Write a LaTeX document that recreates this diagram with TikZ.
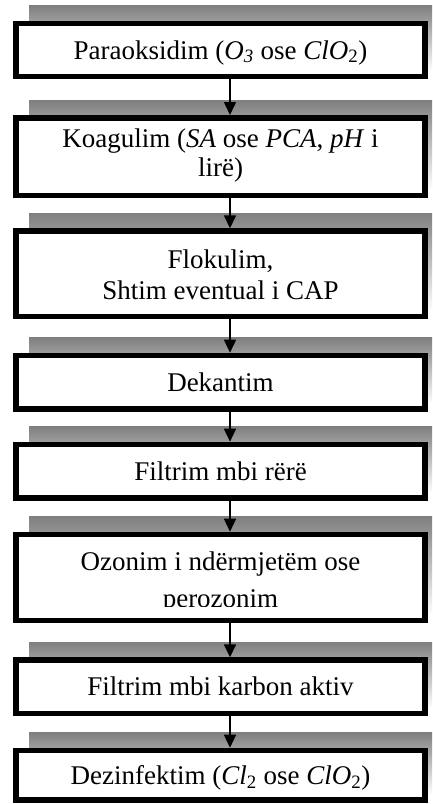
\documentclass[tikz,border=0pt]{standalone}
\usepackage{fontspec}
\setmainfont{Liberation Serif}
\usetikzlibrary{arrows.meta}
\definecolor{shade}{HTML}{808080}
\begin{document}
\begin{tikzpicture}[x=1pt,y=-1pt,
  box/.style={draw=black, line width=5.5pt, fill=white, inner sep=0pt, minimum width=409pt},
  lbl/.style={anchor=base, inner sep=0pt, font=\fontsize{27}{31}\selectfont},
  arr/.style={line width=1.5pt, -{Triangle[width=12pt,length=13pt]}}]
\useasboundingbox (0,0) rectangle (432,804);
% shadows
\foreach \t/\b in {20.7/79.3, 115/198.3, 228.3/319.3, 352.7/411.7, 441.7/500.7, 531.7/623.3, 657.3/716, 747.7/802.7}
  \fill[shade] (29,\t-15) rectangle (432,\b-8);
% boxes
\node[box, minimum height=53.1pt] (b1) at (220.5,50) {};
\node[box, minimum height=77.8pt] (b2) at (220.5,156.65) {};
\node[box, minimum height=85.5pt] (b3) at (220.5,273.8) {};
\node[box, minimum height=53.5pt] (b4) at (220.5,382.2) {};
\node[box, minimum height=53.5pt] (b5) at (220.5,471.2) {};
\node[box, minimum height=86.1pt] (b6) at (220.5,577.5) {};
\node[box, minimum height=53.2pt] (b7) at (220.5,686.65) {};
\node[box, minimum height=49.5pt] (b8) at (220.5,775.2) {};
% texts
\node[lbl] (t1) at (220.5,59) {Paraoksidim (\textit{O\textsubscript{3}} ose \textit{ClO}\textsubscript{2})};
\node[lbl] (t2a) at (220.5,147) {Koagulim (\textit{SA} ose \textit{PCA}, \textit{pH} i};
\node[lbl] (t2b) at (220.5,176) {lirë)};
\node[lbl] (t3a) at (220.5,268) {Flokulim,};
\node[lbl] (t3b) at (220.5,299) {Shtim eventual i CAP};
\node[lbl] (t4) at (220.5,391.5) {Dekantim};
\node[lbl] (t5) at (220.5,480.5) {Filtrim mbi rërë};
\node[lbl] (t6a) at (220.5,570) {Ozonim i ndërmjetëm ose};
\begin{scope}
\clip (0,575) rectangle (432,606);
\node[lbl] (t6b) at (220.5,607) {perozonim};
\end{scope}
\node[lbl] (t7) at (220.5,695.5) {Filtrim mbi karbon aktiv};
\node[lbl] (t8) at (220.5,784.5) {Dezinfektim (\textit{Cl}\textsubscript{2} ose \textit{ClO}\textsubscript{2})};
% connectors
\coordinate (ax) at (230,0);
\draw[arr] (b1.south -| ax) -- (b2.north -| ax);
\draw[arr] (b2.south -| ax) -- (b3.north -| ax);
\draw[arr] (b3.south -| ax) -- (b4.north -| ax);
\draw[arr] (b4.south -| ax) -- (b5.north -| ax);
\draw[arr] (b5.south -| ax) -- (b6.north -| ax);
\draw[arr] (b6.south -| ax) -- (b7.north -| ax);
\draw[arr] (b7.south -| ax) -- (b8.north -| ax);
\end{tikzpicture}
\end{document}
